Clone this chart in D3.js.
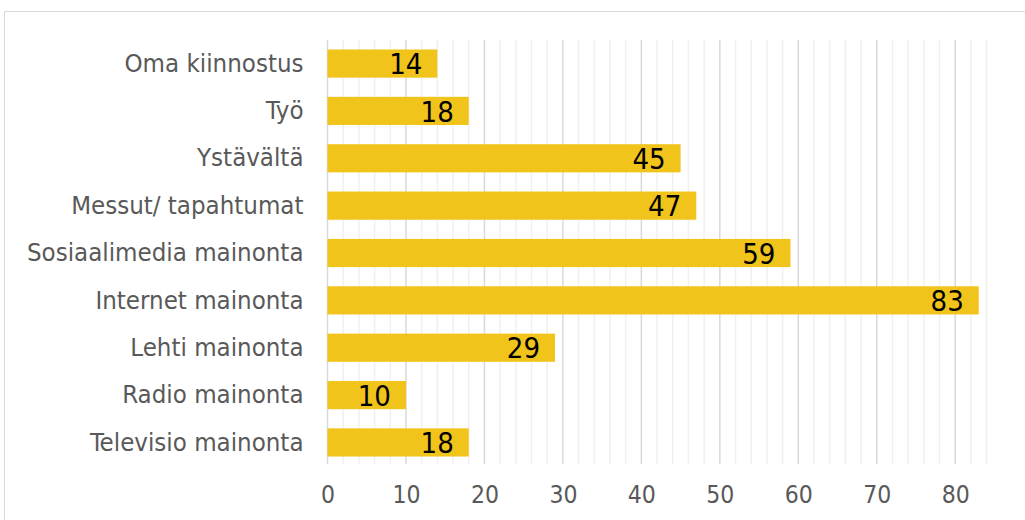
<!DOCTYPE html>
<html>
<head>
<meta charset="utf-8">
<script src="https://cdn.jsdelivr.net/npm/d3@7"></script>
<style>
  html, body { margin: 0; padding: 0; background: #fff; }
  svg { display: block; }
</style>
</head>
<body>
<svg id="chart" width="1025" height="520"></svg>
<script>
// Tiedonlähteet: kategoriat ylhäältä alas ja niiden arvot
const categories = [
  "Oma kiinnostus",
  "Työ",
  "Ystävältä",
  "Messut/ tapahtumat",
  "Sosiaalimedia mainonta",
  "Internet mainonta",
  "Lehti mainonta",
  "Radio mainonta",
  "Televisio mainonta"
];
const values = [14, 18, 45, 47, 59, 83, 29, 10, 18];
const tickValues = [0, 10, 20, 30, 40, 50, 60, 70, 80];
const minorTickValues = d3.range(0, 85, 2);

const FONT = "'DejaVu Sans Condensed', 'DejaVu Sans', Tahoma, sans-serif";
const svg = d3.select("#chart");

// Chart area frame
svg.append("rect")
  .attr("x", 4.5).attr("y", 11.5)
  .attr("width", 1100).attr("height", 600)
  .attr("fill", "none")
  .attr("stroke", "#d9d9d9")
  .attr("stroke-width", 1);

const x = d3.scaleLinear().domain([0, 84]).range([327.5, 986.6]);
const y = d3.scaleBand().domain(categories).range([40, 466]).paddingInner(0.405).paddingOuter(0.2);

// Minor vertical gridlines
svg.append("g").selectAll("line")
  .data(minorTickValues.filter(v => v % 10 !== 0))
  .join("line")
  .attr("x1", d => x(d)).attr("x2", d => x(d))
  .attr("y1", 40).attr("y2", 464)
  .attr("stroke", "#f0f0f0")
  .attr("stroke-width", 1.5);

// Major vertical gridlines
svg.append("g").selectAll("line")
  .data(tickValues)
  .join("line")
  .attr("x1", d => x(d)).attr("x2", d => x(d))
  .attr("y1", 40).attr("y2", 464)
  .attr("stroke", "#d9d9d9")
  .attr("stroke-width", 1.5);

// Bars
svg.append("g").selectAll("rect")
  .data(values)
  .join("rect")
  .attr("x", x(0))
  .attr("y", (d, i) => y(categories[i]))
  .attr("width", d => x(d) - x(0))
  .attr("height", y.bandwidth())
  .attr("fill", "#f0c41b");

// Value labels at the inner end of each bar
svg.append("g").selectAll("text")
  .data(values)
  .join("text")
  .attr("x", d => x(d) - 15)
  .attr("y", (d, i) => y(categories[i]) + y.bandwidth() / 2)
  .attr("dy", "0.37em")
  .attr("text-anchor", "end")
  .attr("font-family", FONT)
  .attr("font-size", 29)
  .attr("fill", "#000")
  .text(d => d);

// Category axis (labels only)
const yAxis = d3.axisLeft(y).tickSize(0).tickPadding(24);
const gy = svg.append("g").attr("transform", `translate(${x(0)},0)`).call(yAxis);
gy.select(".domain").remove();
gy.selectAll("text")
  .attr("font-family", FONT)
  .attr("font-size", 25.6)
  .attr("fill", "#595959");

// Value axis (labels only)
const xAxis = d3.axisBottom(x).tickValues(tickValues).tickSize(0).tickPadding(0);
const gx = svg.append("g").attr("transform", "translate(0,486)").call(xAxis);
gx.select(".domain").remove();
gx.selectAll("text")
  .attr("font-family", FONT)
  .attr("font-size", 24.5)
  .attr("fill", "#595959");
</script>
</body>
</html>
